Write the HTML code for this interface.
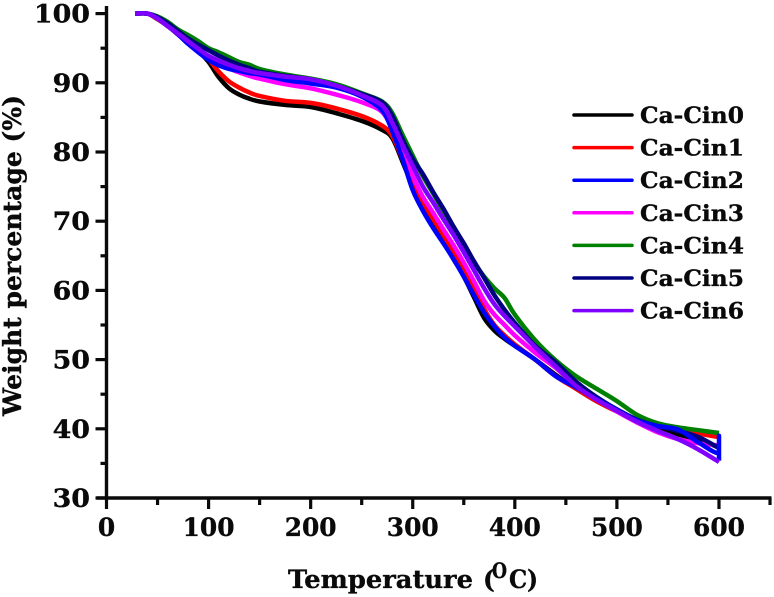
<!DOCTYPE html>
<html lang="en">
<head>
<meta charset="utf-8">
<title>Weight percentage vs temperature</title>
<style>
html,body{margin:0;padding:0;background:#fff;width:774px;height:597px;overflow:hidden}
svg{display:block}
text{fill:#0a0a0a;font-weight:bold;font-family:"DejaVu Serif","Liberation Serif",serif;stroke:#0a0a0a;stroke-width:.35px}
.tick{font-size:25.5px}
.leg{font-size:22px}
.title{font-size:25px}
</style>
</head>
<body>
<svg id="chart" xmlns="http://www.w3.org/2000/svg" width="774" height="597" viewBox="0 0 774 597">
<g id="series" fill="none" stroke-width="4.5" stroke-linejoin="round" stroke-linecap="butt"></g>
<g id="axes"></g>
<g id="legend"></g>
<text class="title" x="288" y="588" textLength="185" lengthAdjust="spacingAndGlyphs">Temperature</text>
<text class="title" x="483" y="588">(</text>
<text x="492" y="578" font-size="21" textLength="15" lengthAdjust="spacingAndGlyphs">O</text>
<text class="title" x="509" y="588" textLength="29" lengthAdjust="spacingAndGlyphs">C)</text>
<text class="title" transform="translate(21,416) rotate(-90)" textLength="321" lengthAdjust="spacingAndGlyphs">Weight percentage (%)</text>
</svg>
<script>
var temps = [28,40,50,60,70,80,90,100,110,120,130,140,150,175,200,225,250,270,280,290,300,310,320,330,340,350,360,370,380,390,400,420,440,460,480,500,520,540,560,580,600,600,600];
var cin0 = [100,100,99.2,98.2,97,95.8,94.6,93,90.8,89.2,88.3,87.7,87.3,86.8,86.5,85.6,84.5,83.2,82,78.6,75,72,69.5,67,64.5,62,59,56,54.2,53,52,50,47.8,45.8,44,42.6,41.3,40.2,39.2,38.4,37.3];
var cin1 = [100,100,99.2,98.2,97,95.8,94.7,93.4,91.6,90.2,89.3,88.6,88.1,87.4,87.1,86.3,85.2,83.8,82.3,79,75.8,72.8,70.3,68,65.5,63,60.3,57.3,55,53.5,52.2,50,47.6,45.8,44,42.5,41.2,40.4,39.8,39.3,38.8];
var cin2 = [100,100,99.3,98.2,97,95.6,94.4,93.3,92.5,92,91.7,91.4,91.2,90.4,89.9,89.3,88,86,83,79,74.5,71.5,69,66.8,64.5,62,59.3,56.8,54.8,53.2,52,50,47.6,46,44.3,42.7,41.2,40.4,39.9,38,36.5,39,35.4];
var cin3 = [100,100,99.3,98.2,97,95.7,94.7,93.6,92.7,92.1,91.5,91,90.6,89.8,89.2,88.3,87.2,85.8,83.2,80,76.5,73.5,71.2,68.8,66.5,64,61.3,58.5,56.5,55,53.5,51,48.8,46.2,44.3,42.5,40.9,39.5,38.5,37.9,37.6];
var cin4 = [100,100,99.6,98.8,97.7,96.9,96,95,94.4,93.7,93,92.6,92,91.2,90.6,89.8,88.5,87.3,85.6,82.5,79.5,76.5,74,71.5,69,66.5,64,62,60.3,58.9,56.5,52.8,49.9,47.6,45.8,44,42,40.8,40.2,39.8,39.4];
var cin5 = [100,100,99.5,98.6,97.5,96.4,95.5,94.7,93.9,93.2,92.6,92.1,91.6,91,90.5,89.6,88.4,87.2,85.2,81.8,79,76.8,74.2,71.8,69.2,66.8,64.2,61.8,59.3,57.2,55.3,52,49.6,46.8,44.6,42.8,41.3,40.4,39.7,38.8,37.2];
var cin6 = [100,100,99.3,98.2,97.1,96,94.9,93.9,93.2,92.6,92.1,91.7,91.4,90.9,90.5,89.6,88.2,86.7,84.2,81,78,75,72.7,70.3,68,65.5,62.9,60.3,58,56.3,54.8,51.8,49,46.2,44.2,42.6,41,39.7,38.5,37,35.2];
var seriesNames = ['Ca-Cin0','Ca-Cin1','Ca-Cin2','Ca-Cin3','Ca-Cin4','Ca-Cin5','Ca-Cin6'];
var seriesValues = [cin0,cin1,cin2,cin3,cin4,cin5,cin6];
var seriesColors = ['#000000','#ff0000','#0000ff','#ff00ff','#008000','#000080','#8000ff'];
var xTicks = [0,50,100,150,200,250,300,350,400,450,500,550,600,650];
var xLabels = [0,100,200,300,400,500,600];
var yTicks = [30,35,40,45,50,55,60,65,70,75,80,85,90,95,100];
var yLabels = [30,40,50,60,70,80,90,100];

function xScale(t){return 106.5+t*1.0208;}
function yScale(w){return 498-(w-30)*6.92;}
var NS='http://www.w3.org/2000/svg';
function mk(tag,parent,attrs){
  var el=document.createElementNS(NS,tag);
  for(var k in attrs){el.setAttribute(k,attrs[k]);}
  parent.appendChild(el);
  return el;
}
function curve(vals){
  var p=vals.map(function(v,i){return [xScale(temps[i]),yScale(v)];});
  var d='M'+p[0][0].toFixed(1)+' '+p[0][1].toFixed(1);
  for(var i=0;i<p.length-1;i++){
    var a=p[Math.max(i-1,0)],b=p[i],c=p[i+1],e=p[Math.min(i+2,p.length-1)];
    if(c[0]-b[0]<0.01){d+=' L'+c[0].toFixed(1)+' '+c[1].toFixed(1);continue;}
    var c1x=b[0]+(c[0]-a[0])/6,c1y=b[1]+(c[1]-a[1])/6,c2x=c[0]-(e[0]-b[0])/6,c2y=c[1]-(e[1]-b[1])/6;
    d+=' C'+c1x.toFixed(1)+' '+c1y.toFixed(1)+' '+c2x.toFixed(1)+' '+c2y.toFixed(1)+' '+c[0].toFixed(1)+' '+c[1].toFixed(1);
  }
  return d;
}
var gS=document.getElementById('series');
var order=[0,1,3,4,5,2,6];
order.forEach(function(i){
  var line=mk('path',gS,{d:curve(seriesValues[i]),stroke:seriesColors[i]});
  
  
});

var gA=document.getElementById('axes');
var STROKE='#0a0a0a';
var yAxis=mk('line',gA,{x1:xScale(0),x2:xScale(0),y1:6,y2:yScale(30)+1.5,stroke:STROKE,'stroke-width':3.4});


var xAxis=mk('line',gA,{x1:xScale(0)-10,x2:xScale(650)+1.5,y1:yScale(30),y2:yScale(30),stroke:STROKE,'stroke-width':3.4});


xTicks.forEach(function(t){
  var major=xLabels.indexOf(t)>=0;
  var tk=mk('line',gA,{x1:xScale(t),x2:xScale(t),y1:yScale(30),y2:yScale(30)+(major?11:7),stroke:STROKE,'stroke-width':3.2});
  
  
});
yTicks.forEach(function(w){
  var major=yLabels.indexOf(w)>=0;
  var tk=mk('line',gA,{x1:xScale(0),x2:xScale(0)-(major?11:6),y1:yScale(w),y2:yScale(w),stroke:STROKE,'stroke-width':3.2});
  
  
});
xLabels.forEach(function(t){
  var s=String(t);
  var lb=mk('text',gA,{x:xScale(t),y:536,'text-anchor':'middle','class':'tick',textLength:s.length*17.3,lengthAdjust:'spacingAndGlyphs'});
  
  
  lb.textContent=s;
});
yLabels.forEach(function(w){
  var s=String(w);
  var lb=mk('text',gA,{x:90,y:yScale(w)+9,'text-anchor':'end','class':'tick',textLength:s.length*18.7,lengthAdjust:'spacingAndGlyphs'});
  
  
  lb.textContent=s;
});

var gL=document.getElementById('legend');
seriesNames.forEach(function(n,i){
  var cy=115+i*32.6;
  var sw=mk('line',gL,{x1:574,x2:632,y1:cy,y2:cy,stroke:seriesColors[i],'stroke-width':3.5,'stroke-linecap':'round'});
  
  
  var tx=mk('text',gL,{x:640,y:cy+8,'class':'leg',textLength:104,lengthAdjust:'spacingAndGlyphs'});
  
  
  tx.textContent=n;
});
</script>
</body>
</html>
